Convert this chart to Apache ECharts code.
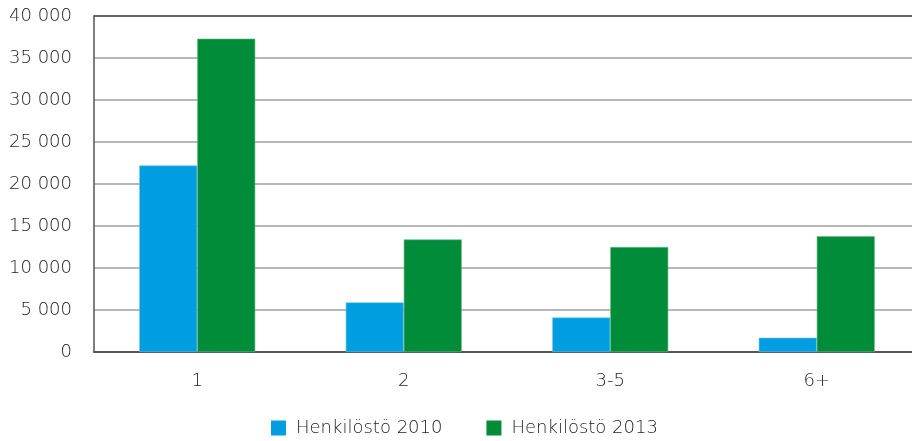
<!DOCTYPE html>
<html><head><meta charset="utf-8">
<script src="https://cdn.jsdelivr.net/npm/echarts@6/dist/echarts.min.js"></script>
<style>html,body{margin:0;padding:0;background:#fff}#c{width:912px;height:441px}</style>
</head><body><div id="c"></div>
<script>
var categories = ['1', '2', '3-5', '6+'];
var seriesNames = ['Henkilöstö 2010', 'Henkilöstö 2013'];
var values2010 = [22200, 5900, 4100, 1700];
var values2013 = [37300, 13400, 12500, 13800];
var chart = echarts.init(document.getElementById('c'));
var font = 'DejaVu Sans';
function fmt(v){ return String(v).replace(/\B(?=(\d{3})+(?!\d))/g, ' '); }
chart.setOption({
  animation: false,
  textStyle: {fontFamily: font},
  grid: {left: 94, width: 826, top: 16, height: 336, containLabel: false, outerBoundsMode: 'none'},
  legend: {
    top: 419, left: 271, padding: 0, itemWidth: 15, itemHeight: 15, itemGap: 44,
    icon: 'rect',
    itemStyle: {borderWidth: 0},
    textStyle: {fontSize: 18, fontWeight: 200, color: '#1e1e1e', fontFamily: font, padding: [0, 0, 0, 5]},
    data: seriesNames
  },
  xAxis: [{
    type: 'category', data: categories,
    axisTick: {show: false},
    axisLine: {lineStyle: {color: '#555', width: 2}},
    axisLabel: {fontSize: 18, fontWeight: 200, color: '#1e1e1e', margin: 20}
  }, {
    type: 'category', data: categories, position: 'top',
    axisTick: {show: false}, axisLabel: {show: false},
    axisLine: {show: true, lineStyle: {color: '#4a4a4a', width: 1.5}}
  }],
  yAxis: {
    type: 'value', min: 0, max: 40000, interval: 5000,
    axisLine: {show: true, lineStyle: {color: '#555', width: 1.5}},
    axisTick: {show: false},
    splitLine: {lineStyle: {color: '#a0a0a0', width: 1.5}},
    axisLabel: {fontSize: 18, fontWeight: 200, color: '#1e1e1e', margin: 22, formatter: fmt}
  },
  series: [
    {name: seriesNames[0], type: 'bar', data: values2010, barWidth: 58, barGap: '0%',
     itemStyle: {color: '#009EE0', borderColor: '#6cc3ea', borderWidth: 0.6}},
    {name: seriesNames[1], type: 'bar', data: values2013, barWidth: 58, barGap: '0%',
     itemStyle: {color: '#008C38', borderColor: '#6ab98a', borderWidth: 0.6}}
  ]
});
</script></body></html>
